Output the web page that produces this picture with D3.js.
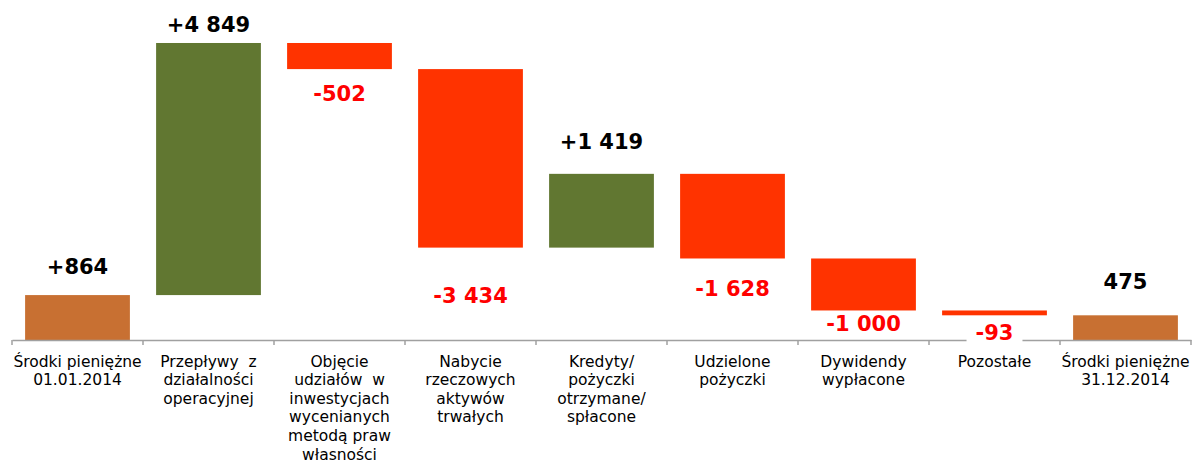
<!DOCTYPE html>
<html lang="pl"><head>
<meta charset="utf-8">
<title>waterfall</title>
<script src="https://cdn.jsdelivr.net/npm/d3@7"></script>
<style>
  body { margin: 0; background: #fff; }
  svg { display: block; font-family: "DejaVu Sans", Verdana, sans-serif; }
  .cat { font-size: 15.5px; fill: #000; white-space: pre; }
  .val { font-size: 21px; font-weight: bold; }
</style>
</head>
<body>
<svg width="1196" height="466"></svg>
<script>
// categories (wrapped as in the original)
var categories = [
  ["Środki pieniężne", "01.01.2014"],
  ["Przepływy  z", "działalności", "operacyjnej"],
  ["Objęcie", "udziałów  w", "inwestycjach", "wycenianych", "metodą praw", "własności"],
  ["Nabycie", "rzeczowych", "aktywów", "trwałych"],
  ["Kredyty/", "pożyczki", "otrzymane/", "spłacone"],
  ["Udzielone", "pożyczki"],
  ["Dywidendy", "wypłacone"],
  ["Pozostałe"],
  ["Środki pieniężne", "31.12.2014"]
];
// change per step; first and last are totals
var values = [864, 4849, -502, -3434, 1419, -1628, -1000, -93, 475];
var kinds  = ["total", "step", "step", "step", "step", "step", "step", "step", "total"];
var labels = ["+864", "+4 849", "-502", "-3 434", "+1 419", "-1 628", "-1 000", "-93", "475"];
// label distance from the bar end (px)
var labelGap = [21, 11, 32, 55, 25, 38, 21, 25, 26];

var svg = d3.select("svg");
var baseY = 340;

var x = d3.scaleBand()
  .domain(d3.range(categories.length))
  .range([12, 1191])
  .paddingInner(0.2)
  .paddingOuter(0.1);

var y = d3.scaleLinear().domain([0, 6540]).range([baseY, 0]);

// running totals
var rows = [];
var run = 0;
values.forEach(function(v, i) {
  var start, end;
  if (kinds[i] == "total") { start = 0; end = v; run = v; }
  else { start = run; end = run + v; run = end; }
  rows.push({i: i, v: v, lo: Math.min(start, end), hi: Math.max(start, end), kind: kinds[i]});
});

function color(d) {
  if (d.kind == "total") return "#c87032";
  return d.v >= 0 ? "#617731" : "#ff3300";
}

svg.append("g").selectAll("rect")
  .data(rows)
  .enter().append("rect")
    .attr("x", function(d) { return x(d.i); })
    .attr("width", x.bandwidth())
    .attr("y", function(d) { return y(d.hi); })
    .attr("height", function(d) { return y(d.lo) - y(d.hi); })
    .attr("fill", color);

// axis
var axis = svg.append("g")
  .attr("transform", "translate(0," + baseY + ")")
  .call(d3.axisBottom(x).tickSize(0).tickSizeOuter(0).tickFormat(""));
axis.select(".domain").attr("stroke", "#a0a0a0").attr("stroke-width", 1.5);

// category boundary ticks
var step = x.step();
var x0 = x.range()[0];
svg.append("g").selectAll("line")
  .data(d3.range(categories.length + 1))
  .enter().append("line")
    .attr("x1", function(d) { return x0 + d * step; })
    .attr("x2", function(d) { return x0 + d * step; })
    .attr("y1", baseY)
    .attr("y2", baseY + 5)
    .attr("stroke", "#a0a0a0")
    .attr("stroke-width", 1.5);

// category labels
var cat = svg.append("g").selectAll("text")
  .data(categories)
  .enter().append("text")
    .attr("class", "cat")
    .attr("text-anchor", "middle")
    .attr("x", function(d, i) { return x(i) + x.bandwidth() / 2; })
    .attr("y", 366.5);
cat.selectAll("tspan")
  .data(function(d) { return d; })
  .enter().append("tspan")
    .attr("x", function() { return d3.select(this.parentNode).attr("x"); })
    .attr("dy", function(d, j) { return j == 0 ? 0 : 18.6; })
    .text(function(d) { return d; });

// value labels
var vl = svg.append("g").selectAll("g")
  .data(rows)
  .enter().append("g")
    .attr("transform", function(d) {
      var cx = x(d.i) + x.bandwidth() / 2;
      var ly = d.v >= 0 ? y(d.hi) - labelGap[d.i] : y(d.lo) + labelGap[d.i];
      return "translate(" + cx + "," + ly + ")";
    });
vl.append("text")
  .attr("class", "val")
  .attr("text-anchor", "middle")
  .attr("fill", function(d) { return d.v >= 0 ? "#000" : "#ff0000"; })
  .text(function(d, i) { return labels[i]; });
// white box behind labels that sit on the axis
vl.filter(function(d, i) { return i == 7; }).each(function() {
  var g = d3.select(this);
  var bb = g.select("text").node().getBBox();
  g.insert("rect", "text")
    .attr("x", bb.x - 9).attr("y", bb.y)
    .attr("width", bb.width + 18).attr("height", bb.height)
    .attr("fill", "#fff");
});
</script>
</body>
</html>
